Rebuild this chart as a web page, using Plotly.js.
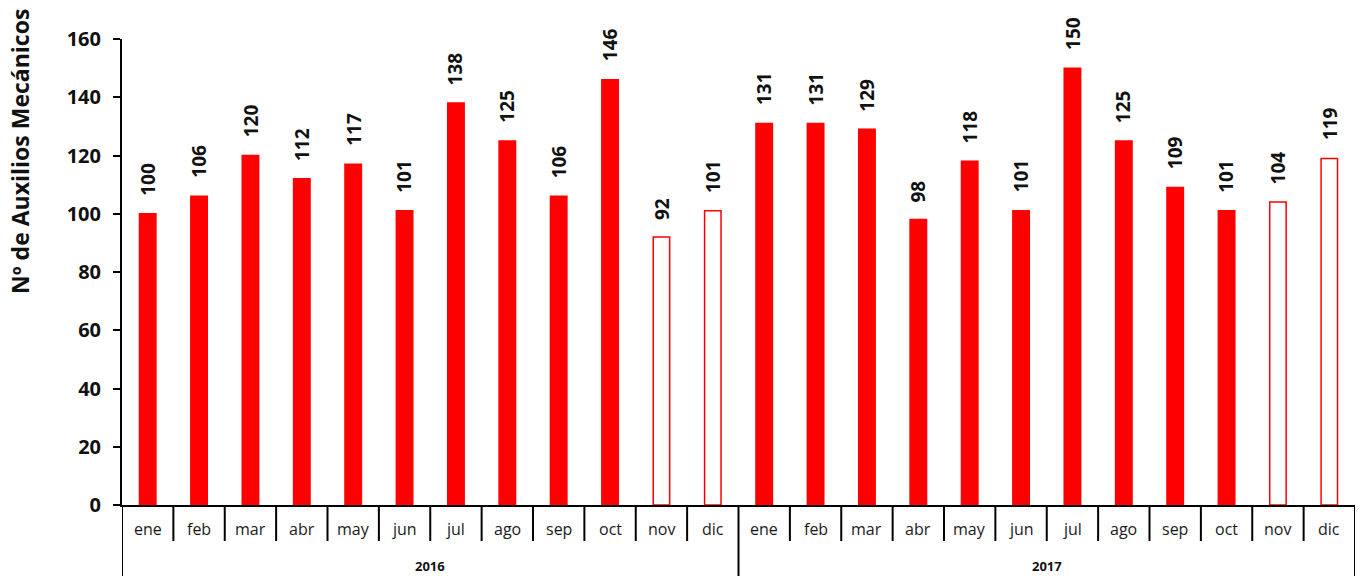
<!DOCTYPE html>
<html>
<head>
<meta charset="utf-8">
<script src="https://cdn.plot.ly/plotly-3.0.1.min.js"></script>
<style>html,body{margin:0;padding:0;background:#fff;}#chart{width:1360px;height:576px;}</style>
</head>
<body>
<div id="chart"></div>
<script>
const years = ["2016", "2017"];
const months = ["ene","feb","mar","abr","may","jun","jul","ago","sep","oct","nov","dic"];
const values2016 = [100,106,120,112,117,101,138,125,106,146,92,101];
const values2017 = [131,131,129,98,118,101,150,125,109,101,104,119];
const hollow2016 = [false,false,false,false,false,false,false,false,false,false,true,true];
const hollow2017 = [false,false,false,false,false,false,false,false,false,false,true,true];

const xIdx = [], xMonth = [], yVals = [], fills = [];
years.forEach((yr, i) => {
  const vals = i === 0 ? values2016 : values2017;
  const hol = i === 0 ? hollow2016 : hollow2017;
  months.forEach((m, j) => {
    xIdx.push(xIdx.length); xMonth.push(m); yVals.push(vals[j]);
    fills.push(hol[j] ? "#ffffff" : "#ff0000");
  });
});
const N = xIdx.length;
const perYear = months.length;

const FONT = "'Open Sans', Lato, sans-serif";

const trace = {
  type: "bar",
  x: xIdx,
  y: yVals,
  marker: {color: fills, line: {color: "#ff0000", width: 1.5}},
  hovertext: xMonth, hoverinfo: "text+y"
};

const annotations = [];
// value labels
yVals.forEach((v, i) => {
  const s = String(v);
  annotations.push({
    xref: "x", yref: "y", x: xIdx[i], y: v,
    text: "<b>" + s + "</b>", showarrow: false, textangle: -90,
    xanchor: "center", yanchor: "middle",
    yshift: 16 + s.length * 6.2,
    font: {family: FONT, size: 19, color: "#111"}
  });
});
// month labels
xMonth.forEach((m, i) => {
  annotations.push({
    xref: "x", yref: "paper", x: xIdx[i], y: 0, yshift: -24,
    xanchor: "center", yanchor: "middle", showarrow: false,
    text: m, font: {family: FONT, size: 16, color: "#1a1a1a"}
  });
});
// year labels
years.forEach((yr, k) => {
  annotations.push({
    xref: "x", yref: "paper", x: k * perYear + (perYear - 1) / 2, y: 0, yshift: -61,
    xanchor: "center", yanchor: "middle", showarrow: false,
    text: "<b>" + yr + "</b>", font: {family: FONT, size: 13, color: "#111"}
  });
});
// y-axis title
annotations.push({
  xref: "paper", yref: "paper", x: 0, y: (505 - 152) / 466, xshift: -102,
  xanchor: "center", yanchor: "middle", textangle: -90, showarrow: false,
  text: "<b>Nº de Auxilios Mecánicos</b>",
  font: {family: FONT, size: 23, color: "#111"}
});

// boundary tick positions
const bounds = [];
for (let i = 0; i <= N; i++) bounds.push(i - 0.5);

const shapes = [];
bounds.forEach((b, i) => {
  const isYear = i % perYear === 0;
  shapes.push({
    type: "line", xref: "x", yref: "paper", x0: b, x1: b,
    y0: 0, y1: isYear ? -71 / 466 : -36 / 466,
    line: {color: "#000", width: 2}
  });
});

const layout = {
  width: 1360, height: 576,
  margin: {l: 122, r: 5, t: 39, b: 71},
  paper_bgcolor: "#fff", plot_bgcolor: "#fff",
  bargap: 0.68,
  showlegend: false,
  font: {family: FONT, color: "#111"},
  annotations: annotations,
  shapes: shapes,
  yaxis: {
    range: [0, 160], dtick: 20, showgrid: false, zeroline: false,
    showline: true, linecolor: "#000", linewidth: 2,
    ticks: "outside", ticklen: 7, tickwidth: 2, tickcolor: "#000",
    ticklabelstandoff: 8,
    tickfont: {size: 20, weight: "bold", family: FONT, color: "#111"}
  },
  xaxis: {
    range: [-0.5, N - 0.5], showgrid: false, zeroline: false,
    showline: true, linecolor: "#000", linewidth: 2,
    showticklabels: false, ticks: ""
  }
};

Plotly.newPlot("chart", [trace], layout, {staticPlot: true});
</script>
</body>
</html>
